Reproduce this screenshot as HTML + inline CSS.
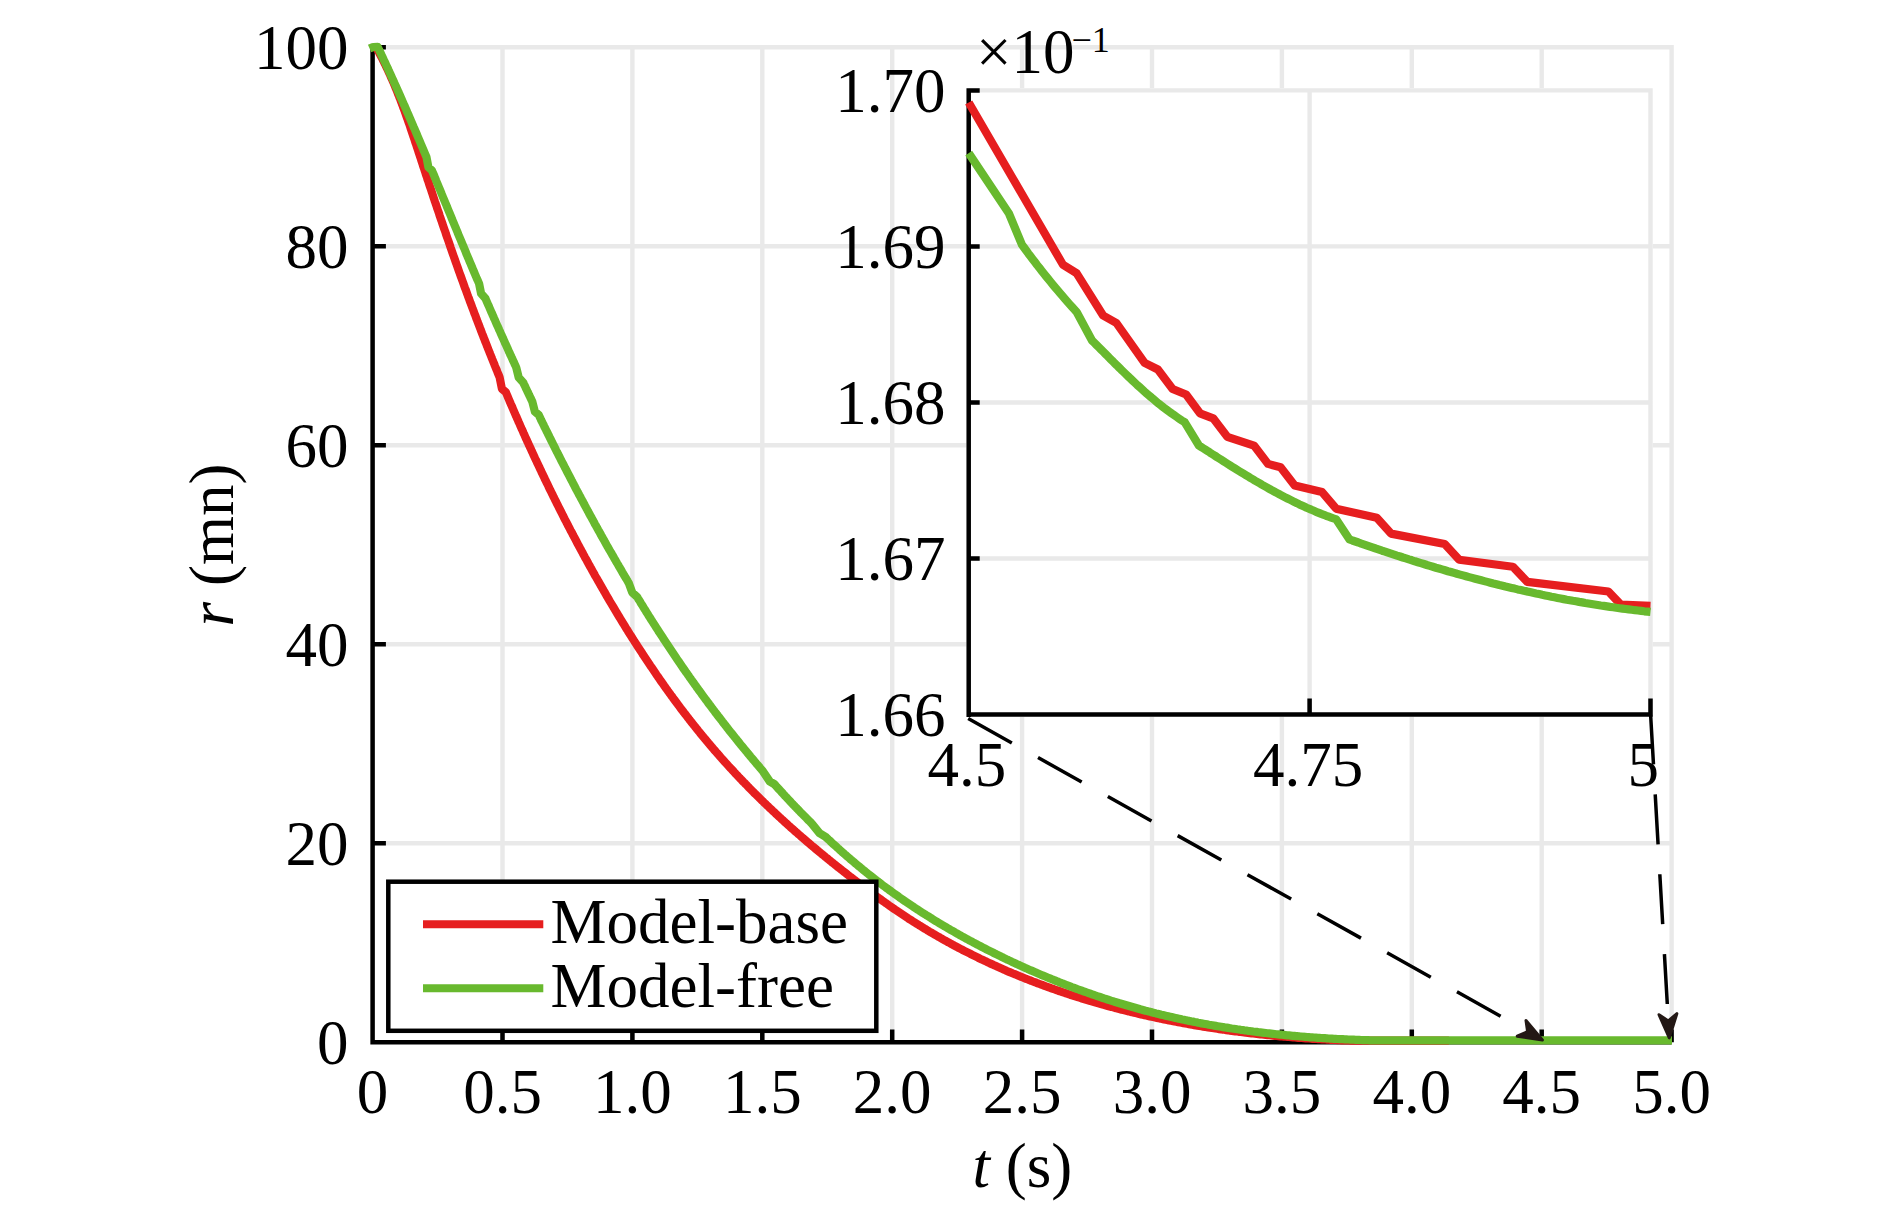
<!DOCTYPE html>
<html><head><meta charset="utf-8"><title>chart</title>
<style>html,body{margin:0;padding:0;background:#fff;width:1890px;height:1205px;overflow:hidden}</style>
</head><body>
<svg width="1890" height="1205" viewBox="0 0 1890 1205" style="display:block">
<rect width="1890" height="1205" fill="#fff"/>
<path d="M502.5 45.1V1042.3M632.4 45.1V1042.3M762.3 45.1V1042.3M892.2 45.1V1042.3M1022.1 45.1V1042.3M1152.0 45.1V1042.3M1281.9 45.1V1042.3M1411.8 45.1V1042.3M1541.7 45.1V1042.3M1671.6 45.1V1042.3M372.6 843.3H1673.8M372.6 644.3H1673.8M372.6 445.3H1673.8M372.6 246.3H1673.8M372.6 47.3H1673.8" stroke="#e9e9e9" stroke-width="4.4" fill="none"/>
<path d="M372.6 45.0V1044.6M370.4 1042.3H1671.6M372.6 1042.3H385.9M372.6 843.3H385.9M372.6 644.3H385.9M372.6 445.3H385.9M372.6 246.3H385.9M372.6 47.3H385.9M502.5 1042.3V1029.6M632.4 1042.3V1029.6M762.3 1042.3V1029.6M892.2 1042.3V1029.6M1022.1 1042.3V1029.6M1152.0 1042.3V1029.6M1281.9 1042.3V1029.6M1411.8 1042.3V1029.6M1541.7 1042.3V1029.6M1671.6 1042.3V1029.6" stroke="#000" stroke-width="4.5" fill="none"/>
<polyline points="375.4,46.0 376.3,47.5 377.1,49.1 378.0,50.6 378.9,52.2 379.7,53.8 380.5,55.3 381.4,56.9 382.2,58.5 383.0,60.1 383.8,61.7 384.6,63.3 385.4,64.9 386.1,66.5 386.9,68.1 387.7,69.7 388.4,71.3 389.1,72.9 389.9,74.5 390.6,76.2 391.3,77.8 392.1,79.4 392.8,81.1 393.5,82.7 394.2,84.3 394.9,86.0 395.5,87.6 396.2,89.3 396.9,90.9 397.6,92.6 398.2,94.3 398.9,95.9 399.5,97.6 400.2,99.2 400.8,100.9 401.5,102.6 402.1,104.3 402.7,105.9 403.3,107.6 404.0,109.3 404.6,111.0 405.2,112.7 405.8,114.4 406.4,116.1 407.0,117.8 407.6,119.4 408.2,121.1 408.8,122.8 409.4,124.5 410.0,126.2 410.5,127.9 411.1,129.6 411.7,131.3 412.3,133.1 412.9,134.8 413.4,136.5 414.0,138.2 414.6,139.9 415.1,141.6 415.7,143.3 416.3,145.0 416.8,146.7 417.4,148.4 418.0,150.2 418.5,151.9 419.1,153.6 419.7,155.3 420.2,157.0 420.8,158.7 421.3,160.4 421.9,162.1 422.5,163.9 423.0,165.6 423.6,167.3 424.2,169.0 424.7,170.7 425.3,172.4 425.8,174.1 426.4,175.8 427.0,177.5 427.5,179.3 428.1,181.0 428.7,182.7 429.2,184.4 429.8,186.1 430.4,187.8 431.0,189.5 431.5,191.2 432.1,192.9 432.7,194.7 433.2,196.4 433.8,198.1 434.4,199.8 434.9,201.5 435.5,203.2 436.1,204.9 436.7,206.6 437.2,208.3 437.8,210.0 438.4,211.7 439.0,213.4 439.5,215.2 440.1,216.9 440.7,218.6 441.3,220.3 441.9,222.0 442.4,223.7 443.0,225.4 443.6,227.1 444.2,228.8 444.8,230.5 445.4,232.2 445.9,233.9 446.5,235.6 447.1,237.3 447.7,239.0 448.3,240.7 448.9,242.4 449.5,244.1 450.1,245.8 450.6,247.5 451.2,249.2 451.8,250.9 452.4,252.6 453.0,254.3 453.6,256.0 454.2,257.7 454.8,259.4 455.4,261.1 456.0,262.8 456.6,264.5 457.2,266.2 457.8,267.9 458.4,269.6 459.0,271.3 459.6,273.0 460.2,274.7 460.8,276.4 461.5,278.1 462.1,279.8 462.7,281.5 463.3,283.2 463.9,284.9 464.5,286.6 465.1,288.2 465.8,289.9 466.4,291.6 467.0,293.3 467.6,295.0 468.2,296.7 468.9,298.4 469.5,300.1 470.1,301.8 470.7,303.4 471.4,305.1 472.0,306.8 472.6,308.5 473.3,310.2 473.9,311.9 474.5,313.6 475.2,315.2 475.8,316.9 476.4,318.6 477.1,320.3 477.7,322.0 478.4,323.7 479.0,325.3 479.6,327.0 480.3,328.7 480.9,330.4 481.6,332.1 482.2,333.7 482.9,335.4 483.5,337.1 484.2,338.8 484.8,340.4 485.5,342.1 486.2,343.8 486.8,345.5 487.5,347.1 488.1,348.8 488.8,350.5 489.5,352.2 490.1,353.8 490.8,355.5 491.5,357.2 492.1,358.8 492.8,360.5 493.5,362.2 494.2,363.9 494.8,365.5 495.5,367.2 496.2,368.9 496.9,370.5 497.5,372.2 498.2,373.9 498.9,375.5 499.6,377.2 501.9,388.8 505.8,392.1 506.5,393.8 507.2,395.4 507.9,397.1 508.6,398.8 509.3,400.4 510.0,402.1 510.7,403.7 511.5,405.4 512.2,407.0 512.9,408.7 513.6,410.3 514.3,412.0 515.0,413.6 515.7,415.3 516.5,416.9 517.2,418.6 517.9,420.2 518.6,421.9 519.4,423.5 520.1,425.2 520.8,426.8 521.5,428.4 522.3,430.1 523.0,431.7 523.7,433.4 524.5,435.0 525.2,436.7 525.9,438.3 526.7,439.9 527.4,441.6 528.2,443.2 528.9,444.9 529.7,446.5 530.4,448.1 531.2,449.8 531.9,451.4 532.7,453.0 533.4,454.7 534.2,456.3 534.9,457.9 535.7,459.6 536.5,461.2 537.2,462.8 538.0,464.4 538.8,466.1 539.5,467.7 540.3,469.3 541.1,470.9 541.8,472.6 542.6,474.2 543.4,475.8 544.2,477.4 544.9,479.1 545.7,480.7 546.5,482.3 547.3,483.9 548.1,485.5 548.8,487.2 549.6,488.8 550.4,490.4 551.2,492.0 552.0,493.6 552.8,495.2 553.6,496.9 554.4,498.5 555.2,500.1 556.0,501.7 556.8,503.3 557.6,504.9 558.4,506.5 559.2,508.1 560.0,509.7 560.8,511.3 561.7,512.9 562.5,514.6 563.3,516.2 564.1,517.8 564.9,519.4 565.8,521.0 566.6,522.6 567.4,524.2 568.2,525.8 569.1,527.4 569.9,529.0 570.7,530.6 571.6,532.1 572.4,533.7 573.2,535.3 574.1,536.9 574.9,538.5 575.8,540.1 576.6,541.7 577.4,543.3 578.3,544.9 579.1,546.5 580.0,548.1 580.8,549.6 581.7,551.2 582.6,552.8 583.4,554.4 584.3,556.0 585.1,557.6 586.0,559.1 586.9,560.7 587.7,562.3 588.6,563.9 589.5,565.5 590.3,567.0 591.2,568.6 592.1,570.2 593.0,571.8 593.9,573.3 594.7,574.9 595.6,576.5 596.5,578.0 597.4,579.6 598.3,581.2 599.2,582.7 600.1,584.3 601.0,585.9 601.9,587.4 602.8,589.0 603.7,590.6 604.6,592.1 605.5,593.7 606.4,595.3 607.3,596.8 608.2,598.4 609.1,599.9 610.0,601.5 610.9,603.0 611.9,604.6 612.8,606.1 613.7,607.7 614.6,609.2 615.6,610.8 616.5,612.3 617.4,613.9 618.3,615.4 619.3,617.0 620.2,618.5 621.2,620.1 622.1,621.6 623.0,623.1 624.0,624.7 624.9,626.2 625.9,627.8 626.8,629.3 627.8,630.8 628.7,632.3 629.7,633.9 630.7,635.4 631.6,636.9 632.6,638.5 633.6,640.0 634.5,641.5 635.5,643.0 636.5,644.5 637.4,646.1 638.4,647.6 639.4,649.1 640.4,650.6 641.4,652.1 642.4,653.6 643.3,655.1 644.3,656.6 645.3,658.1 646.3,659.6 647.3,661.1 648.3,662.6 649.3,664.1 650.3,665.6 651.4,667.1 652.4,668.6 653.4,670.1 654.4,671.6 655.4,673.1 656.4,674.6 657.5,676.1 658.5,677.5 659.5,679.0 660.5,680.5 661.6,682.0 662.6,683.4 663.7,684.9 664.7,686.4 665.7,687.8 666.8,689.3 667.8,690.8 668.9,692.2 669.9,693.7 671.0,695.2 672.1,696.6 673.1,698.1 674.2,699.5 675.3,701.0 676.3,702.4 677.4,703.8 678.5,705.3 679.6,706.7 680.6,708.2 681.7,709.6 682.8,711.0 683.9,712.5 685.0,713.9 686.1,715.3 687.2,716.7 688.3,718.1 689.4,719.6 690.5,721.0 691.6,722.4 692.7,723.8 693.8,725.2 695.0,726.6 696.1,728.0 697.2,729.4 698.3,730.8 699.5,732.2 700.6,733.6 701.7,735.0 702.9,736.4 704.0,737.8 705.2,739.1 706.3,740.5 707.5,741.9 708.6,743.3 709.8,744.6 710.9,746.0 712.1,747.4 713.3,748.7 714.4,750.1 715.6,751.4 716.8,752.8 718.0,754.1 719.2,755.5 720.3,756.8 721.5,758.2 722.7,759.5 723.9,760.9 725.1,762.2 726.3,763.5 727.5,764.8 728.7,766.2 729.9,767.5 731.2,768.8 732.4,770.1 733.6,771.4 734.8,772.8 736.0,774.1 737.3,775.4 738.5,776.7 739.7,778.0 741.0,779.3 742.2,780.6 743.4,781.9 744.7,783.1 745.9,784.4 747.2,785.7 748.4,787.0 749.7,788.3 751.0,789.6 752.2,790.8 753.5,792.1 754.7,793.4 756.0,794.6 757.3,795.9 758.6,797.2 759.8,798.4 761.1,799.7 762.4,800.9 763.7,802.2 765.0,803.4 766.3,804.7 767.6,805.9 768.9,807.2 770.2,808.4 771.5,809.6 772.8,810.9 774.1,812.1 775.4,813.3 776.7,814.6 778.0,815.8 779.3,817.0 780.7,818.2 782.0,819.4 783.3,820.6 784.6,821.9 786.0,823.1 787.3,824.3 788.6,825.5 790.0,826.7 791.3,827.9 792.7,829.1 794.0,830.3 795.3,831.5 796.7,832.6 798.0,833.8 799.4,835.0 800.8,836.2 802.1,837.4 803.5,838.5 804.8,839.7 806.2,840.9 807.6,842.1 808.9,843.2 810.3,844.4 811.7,845.6 813.1,846.7 814.5,847.9 815.8,849.0 817.2,850.2 818.6,851.3 820.0,852.5 821.4,853.6 822.8,854.8 824.2,855.9 825.6,857.1 827.0,858.2 828.4,859.4 829.8,860.5 831.2,861.6 832.6,862.8 834.0,863.9 835.4,865.0 836.8,866.1 838.2,867.3 839.7,868.4 841.1,869.5 842.5,870.6 843.9,871.7 845.3,872.8 846.8,874.0 848.2,875.1 849.6,876.2 851.1,877.3 852.5,878.4 853.9,879.5 855.4,880.6 856.8,881.7 858.2,882.8 859.7,883.9 861.1,885.0 862.6,886.1 864.0,887.2 865.5,888.3 866.9,889.3 868.4,890.4 869.8,891.5 871.3,892.6 872.7,893.6 874.2,894.7 875.6,895.8 877.1,896.9 878.6,897.9 880.0,899.0 881.5,900.0 883.0,901.1 884.5,902.1 885.9,903.2 887.4,904.2 888.9,905.3 890.4,906.3 891.9,907.3 893.3,908.3 894.8,909.4 896.3,910.4 897.8,911.4 899.3,912.4 900.8,913.4 902.3,914.4 903.8,915.4 905.3,916.4 906.8,917.4 908.3,918.4 909.9,919.4 911.4,920.3 912.9,921.3 914.4,922.3 915.9,923.2 917.5,924.2 919.0,925.2 920.5,926.1 922.0,927.0 923.6,928.0 925.1,928.9 926.7,929.8 928.2,930.8 929.7,931.7 931.3,932.6 932.8,933.5 934.4,934.4 935.9,935.3 937.5,936.2 939.1,937.1 940.6,938.0 942.2,938.9 943.7,939.8 945.3,940.6 946.9,941.5 948.4,942.4 950.0,943.2 951.6,944.1 953.2,945.0 954.8,945.8 956.3,946.6 957.9,947.5 959.5,948.3 961.1,949.2 962.7,950.0 964.3,950.8 965.9,951.6 967.5,952.4 969.1,953.2 970.7,954.0 972.3,954.8 973.9,955.6 975.5,956.4 977.1,957.2 978.7,958.0 980.3,958.8 981.9,959.6 983.5,960.3 985.2,961.1 986.8,961.8 988.4,962.6 990.0,963.4 991.7,964.1 993.3,964.8 994.9,965.6 996.5,966.3 998.2,967.1 999.8,967.8 1001.5,968.5 1003.1,969.2 1004.7,969.9 1006.4,970.7 1008.0,971.4 1009.7,972.1 1011.3,972.8 1013.0,973.5 1014.6,974.1 1016.3,974.8 1017.9,975.5 1019.6,976.2 1021.3,976.9 1022.9,977.5 1024.6,978.2 1026.2,978.9 1027.9,979.5 1029.6,980.2 1031.2,980.8 1032.9,981.5 1034.6,982.1 1036.3,982.7 1037.9,983.4 1039.6,984.0 1041.3,984.6 1043.0,985.2 1044.7,985.9 1046.3,986.5 1048.0,987.1 1049.7,987.7 1051.4,988.3 1053.1,988.9 1054.8,989.5 1056.5,990.1 1058.2,990.7 1059.9,991.2 1061.6,991.8 1063.3,992.4 1065.0,993.0 1066.7,993.5 1068.4,994.1 1070.1,994.7 1071.8,995.2 1073.5,995.8 1075.2,996.3 1076.9,996.8 1078.6,997.4 1080.3,997.9 1082.1,998.5 1083.8,999.0 1085.5,999.5 1087.2,1000.0 1088.9,1000.5 1090.7,1001.1 1092.4,1001.6 1094.1,1002.1 1095.8,1002.6 1097.6,1003.1 1099.3,1003.6 1101.0,1004.1 1102.7,1004.6 1104.5,1005.0 1106.2,1005.5 1107.9,1006.0 1109.7,1006.5 1111.4,1006.9 1113.2,1007.4 1114.9,1007.9 1116.6,1008.3 1118.4,1008.8 1120.1,1009.2 1121.9,1009.7 1123.6,1010.1 1125.4,1010.6 1127.1,1011.0 1128.8,1011.4 1130.6,1011.9 1132.3,1012.3 1134.1,1012.7 1135.8,1013.1 1137.6,1013.5 1139.4,1014.0 1141.1,1014.4 1142.9,1014.8 1144.6,1015.2 1146.4,1015.6 1148.1,1016.0 1149.9,1016.4 1151.7,1016.7 1153.4,1017.1 1155.2,1017.5 1157.0,1017.9 1158.7,1018.3 1160.5,1018.6 1162.2,1019.0 1164.0,1019.4 1165.8,1019.7 1167.6,1020.1 1169.3,1020.4 1171.1,1020.8 1172.9,1021.1 1174.6,1021.5 1176.4,1021.8 1178.2,1022.2 1180.0,1022.5 1181.7,1022.8 1183.5,1023.2 1185.3,1023.5 1187.1,1023.8 1188.8,1024.1 1190.6,1024.4 1192.4,1024.8 1194.2,1025.1 1196.0,1025.4 1197.7,1025.7 1199.5,1026.0 1201.3,1026.3 1203.1,1026.6 1204.9,1026.8 1206.7,1027.1 1208.4,1027.4 1210.2,1027.7 1212.0,1028.0 1213.8,1028.2 1215.6,1028.5 1217.4,1028.8 1219.2,1029.1 1221.0,1029.3 1222.8,1029.6 1224.5,1029.8 1226.3,1030.1 1228.1,1030.3 1229.9,1030.6 1231.7,1030.8 1233.5,1031.1 1235.3,1031.3 1237.1,1031.5 1238.9,1031.8 1240.7,1032.0 1242.5,1032.2 1244.3,1032.4 1246.1,1032.7 1247.9,1032.9 1249.7,1033.1 1251.5,1033.3 1253.3,1033.5 1255.1,1033.7 1256.9,1033.9 1258.6,1034.1 1260.4,1034.3 1262.2,1034.5 1264.0,1034.7 1265.8,1034.9 1267.6,1035.1 1269.4,1035.2 1271.2,1035.4 1273.0,1035.6 1274.8,1035.8 1276.6,1035.9 1278.4,1036.1 1280.3,1036.3 1282.1,1036.4 1283.9,1036.6 1285.7,1036.7 1287.5,1036.9 1289.3,1037.0 1291.1,1037.2 1292.9,1037.3 1294.7,1037.5 1296.5,1037.6 1298.3,1037.8 1300.1,1037.9 1301.9,1038.0 1303.7,1038.2 1305.5,1038.3 1307.3,1038.4 1309.1,1038.5 1310.9,1038.6 1312.7,1038.8 1314.5,1038.9 1316.3,1039.0 1318.1,1039.1 1319.9,1039.2 1321.7,1039.3 1323.5,1039.4 1325.3,1039.5 1327.1,1039.6 1328.9,1039.7 1330.7,1039.8 1332.5,1039.9 1334.3,1039.9 1336.1,1040.0 1337.9,1040.1 1339.7,1040.2 1341.5,1040.3 1343.3,1040.3 1345.1,1040.4 1346.9,1040.5 1348.7,1040.5 1350.5,1040.6 1352.3,1040.6 1354.1,1040.6 1355.9,1040.6 1357.7,1040.6 1359.5,1040.6 1361.3,1040.6 1363.1,1040.6 1364.9,1040.6 1366.7,1040.6 1368.5,1040.6 1370.3,1040.6 1372.1,1040.6 1373.9,1040.6 1375.7,1040.6 1377.5,1040.6 1379.3,1040.6 1381.1,1040.6 1382.9,1040.6 1384.7,1040.6 1386.5,1040.6 1388.3,1040.6 1390.1,1040.6 1391.9,1040.6 1393.7,1040.6 1395.5,1040.6 1397.2,1040.6 1399.0,1040.6 1400.8,1040.6 1402.6,1040.6 1404.4,1040.6 1406.2,1040.6 1408.0,1040.6 1409.8,1040.6 1411.6,1040.6 1413.3,1040.6 1415.1,1040.6 1416.9,1040.6 1418.7,1040.6 1420.5,1040.6 1422.3,1040.6 1424.1,1040.6 1425.8,1040.6 1427.6,1040.6 1429.4,1040.6 1431.2,1040.6 1433.0,1040.6 1434.7,1040.6 1436.5,1040.6 1438.3,1040.6 1440.1,1040.6 1441.8,1040.6 1443.6,1040.6 1445.4,1040.6 1447.2,1040.6 1448.9,1040.6" fill="none" stroke="#e61e1f" stroke-width="8.2" stroke-linejoin="round"/>
<polyline points="369.6,48.6 373.2,47.0 377.7,46.9 378.5,48.6 379.2,50.2 380.0,51.8 380.8,53.4 381.5,55.1 382.3,56.7 383.1,58.3 383.8,60.0 384.6,61.6 385.4,63.2 386.1,64.9 386.9,66.5 387.6,68.1 388.4,69.8 389.1,71.4 389.9,73.0 390.6,74.7 391.4,76.3 392.1,78.0 392.9,79.6 393.6,81.2 394.3,82.9 395.1,84.5 395.8,86.2 396.6,87.8 397.3,89.4 398.0,91.1 398.8,92.7 399.5,94.4 400.2,96.0 400.9,97.7 401.7,99.3 402.4,101.0 403.1,102.6 403.8,104.3 404.6,105.9 405.3,107.6 406.0,109.2 406.7,110.9 407.4,112.5 408.2,114.2 408.9,115.8 409.6,117.5 410.3,119.1 411.0,120.8 411.7,122.4 412.4,124.1 413.1,125.7 413.8,127.4 414.6,129.0 415.3,130.7 416.0,132.4 416.7,134.0 417.4,135.7 418.1,137.3 418.8,139.0 419.5,140.6 420.2,142.3 420.9,144.0 421.6,145.6 422.3,147.3 423.0,148.9 423.7,150.6 424.4,152.3 425.1,153.9 425.8,155.6 426.5,157.2 428.4,167.2 432.0,170.5 432.7,172.2 433.4,173.9 434.1,175.5 434.8,177.2 435.5,178.9 436.1,180.5 436.8,182.2 437.5,183.8 438.2,185.5 438.9,187.2 439.6,188.8 440.3,190.5 441.0,192.2 441.6,193.8 442.3,195.5 443.0,197.2 443.7,198.8 444.4,200.5 445.1,202.2 445.8,203.8 446.5,205.5 447.1,207.1 447.8,208.8 448.5,210.5 449.2,212.1 449.9,213.8 450.6,215.5 451.3,217.1 451.9,218.8 452.6,220.5 453.3,222.1 454.0,223.8 454.7,225.5 455.4,227.1 456.1,228.8 456.8,230.5 457.5,232.1 458.1,233.8 458.8,235.5 459.5,237.1 460.2,238.8 460.9,240.4 461.6,242.1 462.3,243.8 463.0,245.4 463.7,247.1 464.4,248.8 465.1,250.4 465.8,252.1 466.4,253.8 467.1,255.4 467.8,257.1 468.5,258.7 469.2,260.4 469.9,262.1 470.6,263.7 471.3,265.4 472.0,267.0 472.7,268.7 473.4,270.4 474.1,272.0 474.8,273.7 475.5,275.3 476.2,277.0 476.9,278.7 477.7,280.3 478.4,282.0 479.1,283.6 481.1,293.6 485.5,298.5 486.2,300.2 486.9,301.8 487.6,303.5 488.3,305.1 489.1,306.8 489.8,308.5 490.5,310.1 491.2,311.8 492.0,313.4 492.7,315.1 493.4,316.7 494.1,318.4 494.9,320.0 495.6,321.7 496.3,323.3 497.0,325.0 497.8,326.6 498.5,328.2 499.2,329.9 500.0,331.5 500.7,333.2 501.4,334.8 502.2,336.5 502.9,338.1 503.7,339.8 504.4,341.4 505.1,343.1 505.9,344.7 506.6,346.3 507.4,348.0 508.1,349.6 508.8,351.3 509.6,352.9 510.3,354.6 511.1,356.2 511.8,357.8 512.6,359.5 513.3,361.1 514.1,362.7 514.8,364.4 515.6,366.0 516.3,367.7 518.7,377.5 523.2,382.4 523.9,384.0 524.7,385.6 525.5,387.3 526.2,388.9 527.0,390.5 527.8,392.2 528.6,393.8 529.3,395.4 530.1,397.0 530.9,398.7 531.7,400.3 532.4,401.9 534.9,411.7 538.7,414.9 539.5,416.5 540.3,418.2 541.0,419.8 541.8,421.4 542.6,423.0 543.4,424.6 544.2,426.3 545.0,427.9 545.8,429.5 546.6,431.1 547.4,432.7 548.2,434.3 549.0,435.9 549.8,437.6 550.6,439.2 551.4,440.8 552.2,442.4 553.0,444.0 553.8,445.6 554.6,447.2 555.4,448.8 556.2,450.5 557.0,452.1 557.9,453.7 558.7,455.3 559.5,456.9 560.3,458.5 561.1,460.1 561.9,461.7 562.8,463.3 563.6,464.9 564.4,466.5 565.2,468.1 566.1,469.7 566.9,471.3 567.7,472.9 568.5,474.5 569.4,476.1 570.2,477.7 571.0,479.3 571.9,480.9 572.7,482.5 573.5,484.1 574.4,485.7 575.2,487.3 576.0,488.9 576.9,490.5 577.7,492.1 578.6,493.7 579.4,495.2 580.3,496.8 581.1,498.4 582.0,500.0 582.8,501.6 583.7,503.2 584.5,504.8 585.4,506.4 586.2,507.9 587.1,509.5 587.9,511.1 588.8,512.7 589.6,514.3 590.5,515.9 591.4,517.4 592.2,519.0 593.1,520.6 594.0,522.2 594.8,523.8 595.7,525.3 596.6,526.9 597.4,528.5 598.3,530.1 599.2,531.6 600.1,533.2 600.9,534.8 601.8,536.4 602.7,537.9 603.6,539.5 604.5,541.1 605.3,542.6 606.2,544.2 607.1,545.8 608.0,547.3 608.9,548.9 609.8,550.5 610.7,552.0 611.6,553.6 612.5,555.2 613.4,556.7 614.3,558.3 615.2,559.8 616.1,561.4 617.0,563.0 617.9,564.5 618.8,566.1 619.7,567.6 620.6,569.2 621.5,570.7 622.4,572.3 623.3,573.8 624.2,575.4 625.1,576.9 626.1,578.5 627.0,580.0 627.9,581.6 628.8,583.1 632.2,592.4 637.2,597.0 638.1,598.6 639.0,600.1 640.0,601.6 640.9,603.2 641.9,604.7 642.8,606.2 643.8,607.8 644.7,609.3 645.7,610.8 646.6,612.3 647.6,613.9 648.5,615.4 649.5,616.9 650.4,618.4 651.4,620.0 652.4,621.5 653.3,623.0 654.3,624.5 655.3,626.0 656.2,627.6 657.2,629.1 658.2,630.6 659.1,632.1 660.1,633.6 661.1,635.1 662.1,636.6 663.1,638.1 664.0,639.6 665.0,641.1 666.0,642.6 667.0,644.1 668.0,645.6 669.0,647.1 670.0,648.6 671.0,650.1 672.0,651.6 673.0,653.1 674.0,654.6 675.0,656.1 676.0,657.6 677.0,659.1 678.1,660.6 679.1,662.0 680.1,663.5 681.1,665.0 682.1,666.5 683.1,668.0 684.2,669.5 685.2,670.9 686.2,672.4 687.3,673.9 688.3,675.3 689.3,676.8 690.4,678.3 691.4,679.8 692.5,681.2 693.5,682.7 694.5,684.1 695.6,685.6 696.6,687.1 697.7,688.5 698.7,690.0 699.8,691.4 700.9,692.9 701.9,694.3 703.0,695.8 704.1,697.3 705.1,698.7 706.2,700.1 707.3,701.6 708.3,703.0 709.4,704.5 710.5,705.9 711.6,707.4 712.6,708.8 713.7,710.2 714.8,711.7 715.9,713.1 717.0,714.5 718.1,716.0 719.2,717.4 720.3,718.8 721.4,720.2 722.5,721.7 723.6,723.1 724.7,724.5 725.8,725.9 726.9,727.4 728.0,728.8 729.1,730.2 730.2,731.6 731.4,733.0 732.5,734.4 733.6,735.8 734.7,737.2 735.9,738.6 737.0,740.0 738.1,741.4 739.3,742.9 740.4,744.3 741.5,745.6 742.7,747.0 743.8,748.4 745.0,749.8 746.1,751.2 747.3,752.6 748.4,754.0 749.6,755.4 750.7,756.8 751.9,758.2 753.0,759.5 754.2,760.9 755.4,762.3 756.5,763.7 757.7,765.0 758.9,766.4 760.0,767.8 761.2,769.2 762.4,770.5 769.7,781.4 774.3,784.1 775.5,785.4 776.7,786.8 777.9,788.1 779.1,789.4 780.4,790.8 781.6,792.1 782.8,793.4 784.0,794.8 785.2,796.1 786.5,797.4 787.7,798.7 788.9,800.0 790.2,801.4 791.4,802.7 792.6,804.0 793.9,805.3 795.1,806.6 796.4,807.9 797.6,809.2 798.9,810.5 800.1,811.8 801.4,813.1 802.7,814.4 803.9,815.6 805.2,816.9 806.5,818.2 807.7,819.5 809.0,820.8 810.3,822.0 811.6,823.3 819.7,833.3 825.8,837.0 827.1,838.3 828.4,839.5 829.8,840.7 831.1,842.0 832.4,843.2 833.7,844.4 835.1,845.6 836.4,846.8 837.7,848.0 839.1,849.2 840.4,850.4 841.7,851.6 843.1,852.8 844.4,854.0 845.8,855.2 847.1,856.3 848.5,857.5 849.9,858.7 851.2,859.9 852.6,861.0 854.0,862.2 855.3,863.3 856.7,864.5 858.1,865.7 859.5,866.8 860.9,867.9 862.2,869.1 863.6,870.2 865.0,871.3 866.4,872.5 867.8,873.6 869.2,874.7 870.6,875.8 872.0,876.9 873.5,878.0 874.9,879.2 876.3,880.3 877.7,881.3 879.1,882.4 880.6,883.5 882.0,884.6 883.4,885.7 884.9,886.8 886.3,887.8 887.8,888.9 889.2,890.0 890.7,891.0 892.1,892.1 893.6,893.1 895.0,894.2 896.5,895.2 897.9,896.2 899.4,897.3 900.9,898.3 902.4,899.3 903.8,900.3 905.3,901.4 906.8,902.4 908.3,903.4 909.8,904.4 911.3,905.4 912.8,906.4 914.2,907.4 915.7,908.4 917.2,909.4 918.8,910.3 920.3,911.3 921.8,912.3 923.3,913.3 924.8,914.2 926.3,915.2 927.8,916.1 929.4,917.1 930.9,918.0 932.4,919.0 933.9,919.9 935.5,920.9 937.0,921.8 938.5,922.7 940.1,923.7 941.6,924.6 943.2,925.5 944.7,926.4 946.3,927.3 947.8,928.2 949.4,929.1 950.9,930.1 952.5,930.9 954.1,931.8 955.6,932.7 957.2,933.6 958.8,934.5 960.3,935.4 961.9,936.3 963.5,937.1 965.1,938.0 966.6,938.9 968.2,939.7 969.8,940.6 971.4,941.4 973.0,942.3 974.6,943.1 976.2,944.0 977.8,944.8 979.4,945.7 981.0,946.5 982.6,947.3 984.2,948.1 985.8,949.0 987.4,949.8 989.0,950.6 990.6,951.4 992.2,952.2 993.8,953.0 995.4,953.8 997.1,954.6 998.7,955.4 1000.3,956.2 1001.9,957.0 1003.6,957.8 1005.2,958.6 1006.8,959.4 1008.4,960.1 1010.1,960.9 1011.7,961.7 1013.3,962.4 1015.0,963.2 1016.6,964.0 1018.3,964.7 1019.9,965.5 1021.6,966.2 1023.2,966.9 1024.9,967.7 1026.5,968.4 1028.2,969.2 1029.8,969.9 1031.5,970.6 1033.1,971.3 1034.8,972.1 1036.4,972.8 1038.1,973.5 1039.8,974.2 1041.4,974.9 1043.1,975.6 1044.8,976.3 1046.4,977.0 1048.1,977.7 1049.8,978.4 1051.4,979.1 1053.1,979.7 1054.8,980.4 1056.5,981.1 1058.2,981.7 1059.8,982.4 1061.5,983.1 1063.2,983.7 1064.9,984.4 1066.6,985.0 1068.3,985.7 1070.0,986.3 1071.6,987.0 1073.3,987.6 1075.0,988.2 1076.7,988.9 1078.4,989.5 1080.1,990.1 1081.8,990.7 1083.5,991.3 1085.2,991.9 1086.9,992.5 1088.6,993.1 1090.3,993.7 1092.0,994.3 1093.8,994.9 1095.5,995.5 1097.2,996.1 1098.9,996.6 1100.6,997.2 1102.3,997.8 1104.0,998.4 1105.7,998.9 1107.5,999.5 1109.2,1000.0 1110.9,1000.6 1112.6,1001.1 1114.3,1001.7 1116.1,1002.2 1117.8,1002.7 1119.5,1003.3 1121.2,1003.8 1123.0,1004.3 1124.7,1004.8 1126.4,1005.3 1128.2,1005.8 1129.9,1006.3 1131.6,1006.8 1133.4,1007.3 1135.1,1007.8 1136.8,1008.3 1138.6,1008.8 1140.3,1009.3 1142.0,1009.7 1143.8,1010.2 1145.5,1010.7 1147.3,1011.1 1149.0,1011.6 1150.8,1012.0 1152.5,1012.5 1154.2,1012.9 1156.0,1013.4 1157.7,1013.8 1159.5,1014.2 1161.2,1014.7 1163.0,1015.1 1164.7,1015.5 1166.5,1015.9 1168.2,1016.3 1170.0,1016.7 1171.7,1017.1 1173.5,1017.5 1175.3,1017.9 1177.0,1018.3 1178.8,1018.7 1180.5,1019.1 1182.3,1019.5 1184.0,1019.8 1185.8,1020.2 1187.6,1020.6 1189.3,1020.9 1191.1,1021.3 1192.9,1021.6 1194.6,1022.0 1196.4,1022.3 1198.1,1022.7 1199.9,1023.0 1201.7,1023.4 1203.4,1023.7 1205.2,1024.0 1207.0,1024.3 1208.8,1024.7 1210.5,1025.0 1212.3,1025.3 1214.1,1025.6 1215.8,1025.9 1217.6,1026.2 1219.4,1026.5 1221.2,1026.8 1222.9,1027.1 1224.7,1027.4 1226.5,1027.6 1228.3,1027.9 1230.0,1028.2 1231.8,1028.5 1233.6,1028.7 1235.4,1029.0 1237.2,1029.3 1238.9,1029.5 1240.7,1029.8 1242.5,1030.0 1244.3,1030.3 1246.1,1030.5 1247.8,1030.8 1249.6,1031.0 1251.4,1031.2 1253.2,1031.5 1255.0,1031.7 1256.8,1031.9 1258.5,1032.2 1260.3,1032.4 1262.1,1032.6 1263.9,1032.8 1265.7,1033.0 1267.5,1033.2 1269.3,1033.4 1271.1,1033.6 1272.9,1033.8 1274.6,1034.0 1276.4,1034.2 1278.2,1034.4 1280.0,1034.6 1281.8,1034.7 1283.6,1034.9 1285.4,1035.1 1287.2,1035.3 1289.0,1035.4 1290.8,1035.6 1292.6,1035.8 1294.4,1035.9 1296.2,1036.1 1298.0,1036.2 1299.8,1036.4 1301.5,1036.5 1303.3,1036.7 1305.1,1036.8 1306.9,1037.0 1308.7,1037.1 1310.5,1037.3 1312.3,1037.4 1314.1,1037.5 1315.9,1037.6 1317.7,1037.8 1319.5,1037.9 1321.3,1038.0 1323.1,1038.1 1324.9,1038.2 1326.7,1038.3 1328.5,1038.5 1330.3,1038.6 1332.1,1038.7 1333.9,1038.8 1335.7,1038.9 1337.5,1039.0 1339.3,1039.1 1341.1,1039.2 1342.9,1039.2 1344.7,1039.3 1346.5,1039.4 1348.3,1039.5 1350.2,1039.6 1352.0,1039.7 1353.8,1039.7 1355.6,1039.8 1357.4,1039.9 1359.2,1039.9 1361.0,1040.0 1362.8,1040.1 1364.6,1040.1 1366.4,1040.2 1368.2,1040.2 1370.0,1040.3 1371.8,1040.3 1373.6,1040.3 1375.4,1040.3 1377.2,1040.3 1379.0,1040.3 1380.8,1040.3 1382.6,1040.3 1384.4,1040.3 1386.2,1040.3 1388.0,1040.3 1389.9,1040.3 1391.7,1040.3 1393.5,1040.3 1395.3,1040.3 1397.1,1040.3 1398.9,1040.3 1400.7,1040.3 1402.5,1040.3 1404.3,1040.3 1406.1,1040.3 1407.9,1040.3 1409.7,1040.3 1411.5,1040.3 1413.3,1040.3 1415.1,1040.3 1416.9,1040.3 1418.7,1040.3 1420.5,1040.3 1422.3,1040.3 1424.1,1040.3 1426.0,1040.3 1427.8,1040.3 1429.6,1040.3 1431.4,1040.3 1433.2,1040.3 1435.0,1040.3 1436.8,1040.3 1438.6,1040.3 1440.4,1040.3 1442.2,1040.3 1444.0,1040.3 1445.8,1040.3 1447.6,1040.3 1449.4,1040.3 1451.2,1040.3 1453.0,1040.3 1454.8,1040.3 1456.6,1040.3 1458.4,1040.3 1460.2,1040.3 1462.0,1040.3 1463.8,1040.3 1465.6,1040.3 1467.4,1040.3 1469.2,1040.3 1471.0,1040.3 1472.8,1040.3 1474.6,1040.3 1476.4,1040.3 1478.2,1040.3 1480.0,1040.3 1672.0,1040.3" fill="none" stroke="#68b92e" stroke-width="8.2" stroke-linejoin="round"/>
<rect x="388.3" y="881.7" width="488" height="149.1" fill="#fff" stroke="#000" stroke-width="4.5"/>
<path d="M423 924.2H543.3" stroke="#e61e1f" stroke-width="8"/>
<path d="M423 988.2H543.3" stroke="#68b92e" stroke-width="8"/>
<text x="550.5" y="943" font-family="'Liberation Serif', serif" font-size="63">Model-base</text>
<text x="550.5" y="1006.8" font-family="'Liberation Serif', serif" font-size="63">Model-free</text>
<text x="348.5" y="1064.1" font-family="'Liberation Serif', serif" font-size="63" text-anchor="end">0</text>
<text x="348.5" y="865.1" font-family="'Liberation Serif', serif" font-size="63" text-anchor="end">20</text>
<text x="348.5" y="666.1" font-family="'Liberation Serif', serif" font-size="63" text-anchor="end">40</text>
<text x="348.5" y="467.1" font-family="'Liberation Serif', serif" font-size="63" text-anchor="end">60</text>
<text x="348.5" y="268.1" font-family="'Liberation Serif', serif" font-size="63" text-anchor="end">80</text>
<text x="348.5" y="69.1" font-family="'Liberation Serif', serif" font-size="63" text-anchor="end">100</text>
<text x="372.6" y="1112.6" font-family="'Liberation Serif', serif" font-size="63" text-anchor="middle">0</text>
<text x="502.5" y="1112.6" font-family="'Liberation Serif', serif" font-size="63" text-anchor="middle">0.5</text>
<text x="632.4" y="1112.6" font-family="'Liberation Serif', serif" font-size="63" text-anchor="middle">1.0</text>
<text x="762.3" y="1112.6" font-family="'Liberation Serif', serif" font-size="63" text-anchor="middle">1.5</text>
<text x="892.2" y="1112.6" font-family="'Liberation Serif', serif" font-size="63" text-anchor="middle">2.0</text>
<text x="1022.1" y="1112.6" font-family="'Liberation Serif', serif" font-size="63" text-anchor="middle">2.5</text>
<text x="1152.0" y="1112.6" font-family="'Liberation Serif', serif" font-size="63" text-anchor="middle">3.0</text>
<text x="1281.9" y="1112.6" font-family="'Liberation Serif', serif" font-size="63" text-anchor="middle">3.5</text>
<text x="1411.8" y="1112.6" font-family="'Liberation Serif', serif" font-size="63" text-anchor="middle">4.0</text>
<text x="1541.7" y="1112.6" font-family="'Liberation Serif', serif" font-size="63" text-anchor="middle">4.5</text>
<text x="1671.6" y="1112.6" font-family="'Liberation Serif', serif" font-size="63" text-anchor="middle">5.0</text>
<text x="972.5" y="1186.5" font-family="'Liberation Serif', serif" font-size="63"><tspan font-style="italic">t</tspan> (s)</text>
<text transform="translate(232.7 545) rotate(-90)" font-family="'Liberation Serif', serif" font-size="63" text-anchor="middle"><tspan font-style="italic">r</tspan> (mn)</text>
<rect x="966.4" y="88.1" width="686.3" height="628.8" fill="#fff"/>
<path d="M968.7 558.5H1652.7M968.7 402.5H1652.7M968.7 246.4H1652.7M968.7 90.4H1652.7M1309.6 88.2V714.6M1650.5 88.2V714.6" stroke="#e9e9e9" stroke-width="4.4" fill="none"/>
<path d="M968.7 88.2V716.9M966.5 714.6H1652.7M968.7 558.5H979.7M968.7 402.5H979.7M968.7 246.4H979.7M968.7 90.4H979.7M1309.6 714.6V698.6M1650.5 714.6V698.6" stroke="#000" stroke-width="4.5" fill="none"/>
<polyline points="968.7,102.5 1063.0,264.8 1076.7,273.3 1103.1,315.5 1116.4,323.0 1144.6,362.8 1157.9,369.5 1172.6,389.0 1186.1,394.5 1200.0,413.3 1213.2,418.3 1227.3,436.8 1254.0,445.6 1268.1,463.9 1280.6,467.2 1294.7,485.5 1322.1,492.1 1336.2,508.7 1376.8,517.8 1391.0,533.6 1444.7,544.0 1459.2,559.8 1512.8,566.7 1527.3,581.9 1608.4,591.5 1620.8,604.6 1650.5,605.9" fill="none" stroke="#e61e1f" stroke-width="8.2" stroke-linejoin="round"/>
<polyline points="968.7,153.1 1008.8,213.2 1021.9,244.6 1024.0,247.5 1026.2,250.5 1028.3,253.4 1030.5,256.3 1032.7,259.2 1034.9,262.1 1037.1,265.0 1039.4,267.8 1041.6,270.7 1043.8,273.5 1046.1,276.4 1048.4,279.2 1050.7,282.0 1053.0,284.8 1055.3,287.6 1057.7,290.4 1060.0,293.1 1062.4,295.9 1064.7,298.6 1067.1,301.4 1069.5,304.1 1071.9,306.8 1074.4,309.5 1076.8,312.2 1092.0,340.5 1094.2,342.7 1096.5,345.0 1098.7,347.2 1101.0,349.5 1103.2,351.7 1105.5,354.0 1107.7,356.2 1109.9,358.5 1112.2,360.7 1114.4,363.0 1116.7,365.2 1119.0,367.5 1121.2,369.7 1123.5,371.9 1125.8,374.1 1128.1,376.4 1130.4,378.5 1132.7,380.7 1135.0,382.9 1137.3,385.1 1139.7,387.2 1142.0,389.3 1144.4,391.5 1146.8,393.6 1149.2,395.6 1151.6,397.7 1154.0,399.7 1156.5,401.8 1158.9,403.8 1161.4,405.7 1163.9,407.7 1166.5,409.6 1169.0,411.5 1171.6,413.4 1174.2,415.2 1176.8,417.0 1179.4,418.8 1182.1,420.6 1184.8,422.3 1198.9,445.5 1201.2,447.0 1203.4,448.4 1205.6,449.8 1207.9,451.2 1210.1,452.7 1212.3,454.1 1214.6,455.5 1216.8,457.0 1219.0,458.4 1221.3,459.8 1223.5,461.2 1225.7,462.6 1228.0,464.1 1230.2,465.5 1232.5,466.9 1234.7,468.3 1237.0,469.7 1239.2,471.1 1241.5,472.5 1243.7,473.8 1246.0,475.2 1248.3,476.6 1250.5,478.0 1252.8,479.3 1255.1,480.7 1257.4,482.0 1259.7,483.3 1262.0,484.7 1264.3,486.0 1266.6,487.3 1268.9,488.6 1271.2,489.9 1273.5,491.1 1275.8,492.4 1278.2,493.6 1280.5,494.9 1282.8,496.1 1285.2,497.3 1287.5,498.5 1289.9,499.7 1292.3,500.9 1294.6,502.1 1297.0,503.2 1299.4,504.4 1301.8,505.5 1304.2,506.6 1306.6,507.7 1309.1,508.7 1311.5,509.8 1313.9,510.8 1316.4,511.9 1318.8,512.9 1321.3,513.9 1323.8,514.8 1326.2,515.8 1328.7,516.7 1331.2,517.6 1333.7,518.5 1336.3,519.4 1349.5,539.4 1352.4,540.5 1355.4,541.5 1358.4,542.5 1361.3,543.6 1364.3,544.6 1367.2,545.6 1370.2,546.6 1373.2,547.6 1376.1,548.7 1379.1,549.7 1382.1,550.7 1385.1,551.6 1388.0,552.6 1391.0,553.6 1394.0,554.6 1397.0,555.6 1400.0,556.5 1402.9,557.5 1405.9,558.4 1408.9,559.4 1411.9,560.3 1414.9,561.3 1417.9,562.2 1420.9,563.1 1423.9,564.0 1426.9,565.0 1429.9,565.9 1432.9,566.8 1435.9,567.7 1438.9,568.5 1441.9,569.4 1444.9,570.3 1447.9,571.2 1451.0,572.0 1454.0,572.9 1457.0,573.8 1460.0,574.6 1463.0,575.4 1466.1,576.3 1469.1,577.1 1472.1,577.9 1475.1,578.7 1478.2,579.5 1481.2,580.3 1484.2,581.1 1487.3,581.9 1490.3,582.7 1493.3,583.5 1496.4,584.2 1499.4,585.0 1502.5,585.7 1505.5,586.5 1508.6,587.2 1511.6,587.9 1514.6,588.6 1517.7,589.4 1520.8,590.1 1523.8,590.8 1526.9,591.4 1529.9,592.1 1533.0,592.8 1536.1,593.5 1539.1,594.1 1542.2,594.8 1545.2,595.4 1548.3,596.0 1551.4,596.7 1554.5,597.3 1557.5,597.9 1560.6,598.5 1563.7,599.1 1566.8,599.7 1569.8,600.2 1572.9,600.8 1576.0,601.3 1579.1,601.9 1582.2,602.4 1585.3,603.0 1588.4,603.5 1591.5,604.0 1594.6,604.5 1597.7,605.0 1600.8,605.5 1603.8,605.9 1607.0,606.4 1610.1,606.9 1613.2,607.3 1616.3,607.8 1619.4,608.2 1622.5,608.6 1625.6,609.0 1628.7,609.4 1631.8,609.8 1634.9,610.2 1638.1,610.5 1641.2,610.9 1644.3,611.3 1647.4,611.6 1650.5,611.9" fill="none" stroke="#68b92e" stroke-width="8.2" stroke-linejoin="round"/>
<text x="945.5" y="112.2" font-family="'Liberation Serif', serif" font-size="63" text-anchor="end">1.70</text>
<text x="945.5" y="268.2" font-family="'Liberation Serif', serif" font-size="63" text-anchor="end">1.69</text>
<text x="945.5" y="424.3" font-family="'Liberation Serif', serif" font-size="63" text-anchor="end">1.68</text>
<text x="945.5" y="580.3" font-family="'Liberation Serif', serif" font-size="63" text-anchor="end">1.67</text>
<text x="945.5" y="736.4" font-family="'Liberation Serif', serif" font-size="63" text-anchor="end">1.66</text>
<text x="966.9" y="786" font-family="'Liberation Serif', serif" font-size="63" text-anchor="middle">4.5</text>
<text x="1308" y="786" font-family="'Liberation Serif', serif" font-size="63" text-anchor="middle">4.75</text>
<text x="1627.5" y="786" font-family="'Liberation Serif', serif" font-size="63">5</text>
<text x="976" y="73" font-family="'Liberation Serif', serif" font-size="63">×10<tspan font-size="36" dx="-3" dy="-21">−1</tspan></text>
<path d="M968.2 718.5L1500.6 1016.2" stroke="#000" stroke-width="3.5" stroke-dasharray="50 30" fill="none"/>
<path d="M1650.6 714.5L1667.3 1004" stroke="#000" stroke-width="3.5" stroke-dasharray="50 30" fill="none"/>
<path d="M1542.4 1040.0L1517.2 1036.2L1527.6 1031.7L1526.0 1020.5Z" fill="#231815" stroke="#231815" stroke-width="3" stroke-linejoin="round"/>
<path d="M1669.3 1037.9L1659.0 1014.7L1668.3 1020.9L1676.9 1013.6Z" fill="#231815" stroke="#231815" stroke-width="3" stroke-linejoin="round"/>
</svg>
</body></html>
